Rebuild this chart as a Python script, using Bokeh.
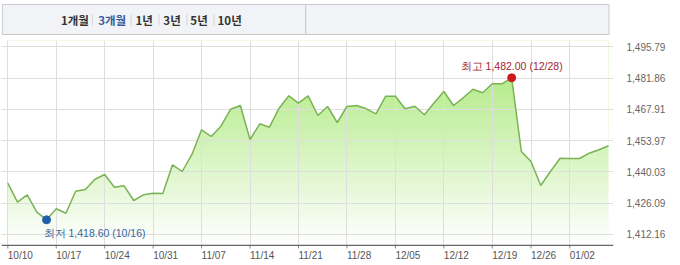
import numpy as np
from bokeh.plotting import figure
from bokeh.models import Range1d, FixedTicker, NumeralTickFormatter, Span
from bokeh.layouts import column
from bokeh.core.properties import value
from bokeh.embed import file_html
from bokeh.resources import INLINE

# ---------------- data ----------------
periods = ["1개월", "3개월", "1년", "3년", "5년", "10년"]
active_period = "3개월"

rates = [1434.95, 1426.46, 1429.77, 1422.00, 1418.60, 1423.52, 1421.55, 1431.37, 1432.13, 1436.73,
         1438.83, 1433.16, 1433.79, 1427.22, 1429.77, 1430.48, 1430.35, 1443.16, 1440.17, 1447.76,
         1458.79, 1455.79, 1460.39, 1467.98, 1469.63, 1454.46, 1461.46, 1459.95, 1468.43, 1473.96,
         1470.66, 1473.96, 1465.17, 1469.19, 1462.04, 1469.19, 1469.63, 1468.16, 1465.93, 1473.79,
         1473.79, 1468.16, 1469.32, 1465.48, 1470.84, 1475.88, 1469.63, 1473.07, 1476.91, 1475.30,
         1479.32, 1479.32, 1482.00, 1449.10, 1444.63, 1433.92, 1440.17, 1446.11, 1445.97, 1445.97,
         1448.34, 1449.86, 1451.64]

x_tick_index = [0, 5, 10, 15, 20, 25, 30, 35, 40, 45, 50, 54, 58]
x_tick_labels = ["10/10", "10/17", "10/24", "10/31", "11/07", "11/14", "11/21",
                 "11/28", "12/05", "12/12", "12/19", "12/26", "01/02"]
y_ticks = [1412.16, 1426.09, 1440.03, 1453.97, 1467.91, 1481.86, 1495.79]
low_date = "10/16"
high_date = "12/28"

# ---------------- layout / style ----------------
W = 680
TOP_H = 38
MAIN_H = 206
BOT_H = 265 - TOP_H - MAIN_H
BORDER_L, BORDER_R = 1, 67
FONT = "Liberation Sans"
KFONT = "Noto Sans CJK KR"

# ---- top period selector bar ----
top = figure(width=W, height=TOP_H, x_range=Range1d(0, W), y_range=Range1d(TOP_H, 0),
             output_backend="svg", toolbar_location=None, min_border=0,
             x_axis_location=None, y_axis_location=None, outline_line_color=None)
top.grid.visible = False
top.quad(left=[1, 338], right=[338, 675], top=[4, 4], bottom=[34, 34],
         fill_color="#f1f3f6", line_color="#c6c8cc", line_width=1)
btn_x = [81.5, 123, 158.5, 189.5, 219.5, 253.5]
sep_x = [101, 144, 175, 206, 236]
btn_colors = ["#3b5b9a" if s == active_period else "#333333" for s in periods]
top.text(x=btn_x, y=[19.5] * len(periods), text=periods, text_align="center",
         text_baseline="middle", text_font=value(KFONT), text_font_style="bold",
         text_font_size="11.5px", text_color=btn_colors)
top.segment(x0=sep_x, x1=sep_x, y0=[14] * len(sep_x), y1=[25] * len(sep_x),
            line_color="#d4d6da", line_width=1)

# ---- main chart ----
idx = np.arange(len(rates))
vals = np.array(rates)
ybot, ytop = 1407.58, 1498.65
xr = Range1d(-0.65, 62.51)

p = figure(width=W, height=MAIN_H, x_range=xr, y_range=Range1d(ybot, ytop),
           y_axis_location="right", x_axis_location=None,
           output_backend="svg", toolbar_location=None,
           min_border_left=BORDER_L, min_border_right=BORDER_R, min_border_top=2, min_border_bottom=0,
           outline_line_color=None, background_fill_color="white", border_fill_color="white")

# gradient fill: vertical gradient image masked above the line with white
H = 204
t = np.linspace(0, 1, H)[:, None]
top_rgb = np.array([166, 232, 115], dtype=float)
img = np.empty((H, 1), dtype=np.uint32)
view = img.view(dtype=np.uint8).reshape((H, 1, 4))
for c in range(3):
    view[:, :, c] = np.clip(255 + (top_rgb[c] - 255) * t, 0, 255).astype(np.uint8)
view[:, :, 3] = 255
p.image_rgba(image=[img], x=0, y=ybot, dw=float(idx[-1]), dh=ytop - ybot, level="image")
p.varea(x=idx, y1=vals, y2=ytop, fill_color="white", level="image")

# grid
p.xgrid.ticker = FixedTicker(ticks=x_tick_index)
p.ygrid.ticker = FixedTicker(ticks=y_ticks)
p.grid.grid_line_color = "#dedede"
p.grid.grid_line_width = 1

# line
p.line(idx, vals, line_color="#79b353", line_width=1.5)

# extremes
i_lo = int(np.argmin(vals))
i_hi = int(np.argmax(vals))
p.scatter([i_lo], [vals[i_lo]], size=8, fill_color="#1f5ea8", line_color="#1f5ea8")
p.scatter([i_hi], [vals[i_hi]], size=8, fill_color="#cc1a1a", line_color="#cc1a1a")
lo_text = f"최저 {vals[i_lo]:,.2f} ({low_date})"
hi_text = f"최고 {vals[i_hi]:,.2f} ({high_date})"
p.text(x=[i_lo], y=[vals[i_lo]], text=[lo_text], x_offset=-3, y_offset=13,
       text_align="left", text_baseline="middle", text_font=value(FONT),
       text_font_size="10.5px", text_color="#36679f")
p.text(x=[i_hi], y=[vals[i_hi]], text=[hi_text], y_offset=-12,
       text_align="center", text_baseline="middle", text_font=value(FONT),
       text_font_size="10.5px", text_color="#a3262e")

# y axis on the right
p.yaxis.ticker = FixedTicker(ticks=y_ticks)
p.yaxis.formatter = NumeralTickFormatter(format="0,0.00")
p.yaxis.axis_line_color = None
p.yaxis.major_tick_line_color = None
p.yaxis.minor_tick_line_color = None
p.yaxis.major_label_standoff = 7
p.yaxis.major_label_text_font = FONT
p.yaxis.major_label_text_font_size = "10px"
p.yaxis.major_label_text_color = "#666666"

# ---- x axis strip (left-aligned date labels, like the reference) ----
b = figure(width=W, height=BOT_H, x_range=xr, y_range=Range1d(BOT_H, 0),
           output_backend="svg", toolbar_location=None,
           min_border_left=BORDER_L, min_border_right=BORDER_R, min_border_top=0, min_border_bottom=0,
           x_axis_location=None, y_axis_location=None, outline_line_color=None,
           background_fill_color="white", border_fill_color="white")
b.grid.visible = False
b.add_layout(Span(location=0.75, dimension="width", line_color="#666666", line_width=1.5))
b.segment(x0=x_tick_index, x1=x_tick_index, y0=[0] * len(x_tick_index), y1=[4] * len(x_tick_index),
          line_color="#888888", line_width=1)
b.text(x=x_tick_index, y=[11] * len(x_tick_index), text=x_tick_labels, text_align="left",
       text_baseline="middle", text_font=value(FONT), text_font_size="10px", text_color="#555555")

layout = column(top, p, b, spacing=0)
open("out.html", "w").write(file_html(layout, INLINE))
